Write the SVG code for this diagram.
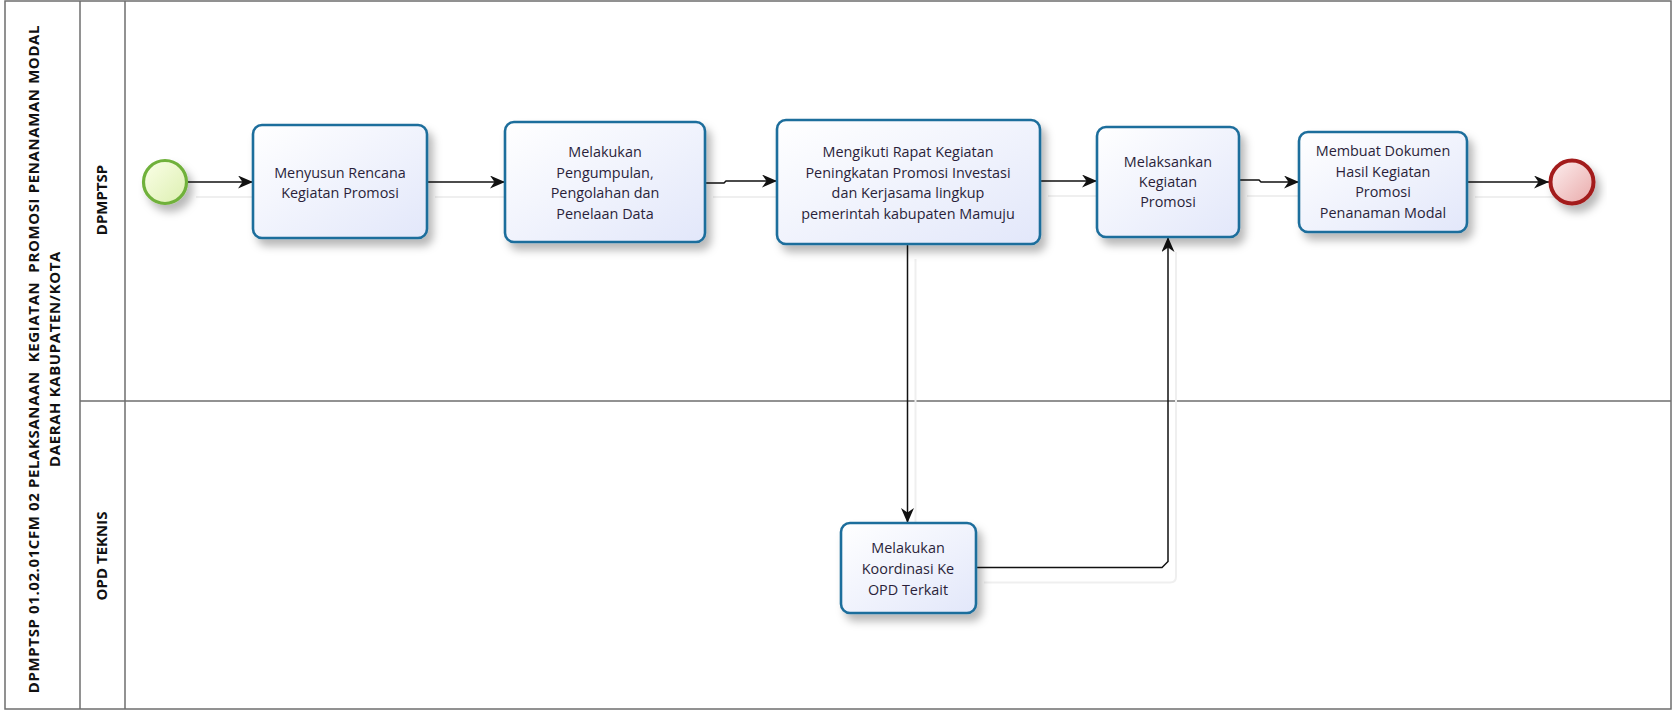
<svg xmlns="http://www.w3.org/2000/svg" width="1673" height="711" viewBox="0 0 1673 711">
<style>
.lane{fill:none;stroke:#6e6e6e;stroke-width:1.5}
.task{stroke:#1f6e9c;stroke-width:2.6;fill:url(#taskGrad);filter:url(#shadow)}
.lbl{font-family:"Open Sans","Noto Sans",sans-serif;font-size:14.4px;fill:#2a1f3a;text-anchor:middle;dominant-baseline:central}
.hdr{font-family:"Open Sans","Noto Sans",sans-serif;font-size:15px;font-weight:bold;fill:#111;text-anchor:middle;dominant-baseline:central;white-space:pre}
.title{letter-spacing:0.6px}
.flow{fill:none;stroke:#111;stroke-width:1.5;marker-end:url(#arrow)}
.fshadow{fill:none;stroke:#efefef;stroke-width:2}
</style>
<defs>
<linearGradient id="taskGrad" x1="0" y1="0" x2="1" y2="1">
<stop offset="0" stop-color="#ffffff"/>
<stop offset="1" stop-color="#e2e7fa"/>
</linearGradient>
<linearGradient id="startGrad" x1="0" y1="0" x2="1" y2="1">
<stop offset="0" stop-color="#fbffe8"/>
<stop offset="1" stop-color="#dcefb0"/>
</linearGradient>
<linearGradient id="endGrad" x1="0" y1="0" x2="1" y2="1">
<stop offset="0" stop-color="#fdf0f0"/>
<stop offset="1" stop-color="#e9a9a9"/>
</linearGradient>
<filter id="shadow" x="-20%" y="-20%" width="150%" height="160%">
<feDropShadow dx="5" dy="7" stdDeviation="4" flood-color="#000" flood-opacity="0.28"/>
</filter>
<marker id="arrow" viewBox="0 0 15 13" refX="15" refY="6.5" markerWidth="15" markerHeight="13" markerUnits="userSpaceOnUse" orient="auto">
<path d="M0,0 L15,6.5 L0,13 L4.5,6.5 z" fill="#111"/>
</marker>
</defs>

<g id="pool">
<rect x="0" y="0" width="1673" height="711" fill="#fff"/>
<rect class="lane" x="5" y="1" width="1666" height="708"/>
<line class="lane" x1="80" y1="1" x2="80" y2="709"/>
<line class="lane" x1="125" y1="1" x2="125" y2="709"/>
<line class="lane" x1="80" y1="401" x2="1671" y2="401"/>
<text class="hdr title" transform="translate(33,359) rotate(-90)">DPMPTSP 01.02.01CFM 02 PELAKSANAAN  KEGIATAN  PROMOSI PENANAMAN MODAL</text>
<text class="hdr title" transform="translate(54,359) rotate(-90)">DAERAH KABUPATEN/KOTA</text>
</g>
<g id="lane-dpmptsp"><text class="hdr" transform="translate(101,200) rotate(-90)">DPMPTSP</text></g>
<g id="lane-opd"><text class="hdr" transform="translate(101,556) rotate(-90)">OPD TEKNIS</text></g>

<g id="connectors">
<g transform="translate(8,15)">
<path class="fshadow" d="M188,182 H253"/>
<path class="fshadow" d="M427,182 H505"/>
<path class="fshadow" d="M705,182 H777"/>
<path class="fshadow" d="M1040,181 H1097"/>
<path class="fshadow" d="M1239,181 H1299"/>
<path class="fshadow" d="M1467,182 H1549"/>
<path class="fshadow" d="M907.5,244 V523"/>
<path class="fshadow" d="M976,567.5 H1162 Q1168,567.5 1168,561.5 V237"/>
</g>
<path id="f1" class="flow" d="M188,182 H253"/>
<path id="f2" class="flow" d="M427,182 H505"/>
<path id="f3" class="flow" d="M705,183 H724 L726,181 H777"/>
<path id="f4" class="flow" d="M1040,181 H1097"/>
<path id="f5" class="flow" d="M1239,180 H1259 L1261,182 H1299"/>
<path id="f6" class="flow" d="M1467,182 H1549"/>
<path id="f7" class="flow" d="M907.5,244 V523"/>
<path id="f8" class="flow" d="M976,567.5 H1162 L1168,561.5 V237"/>
</g>

<g id="start">
<circle cx="165" cy="182" r="21.5" fill="url(#startGrad)" stroke="#6fb13a" stroke-width="3.2" filter="url(#shadow)"/>
</g>
<g id="task1">
<rect class="task" x="253" y="125" width="174" height="113" rx="9"/>
<text class="lbl" x="340" y="172">Menyusun Rencana</text>
<text class="lbl" x="340" y="192">Kegiatan Promosi</text>
</g>
<g id="task2">
<rect class="task" x="505" y="122" width="200" height="120" rx="9"/>
<text class="lbl" x="605" y="151">Melakukan</text>
<text class="lbl" x="605" y="172">Pengumpulan,</text>
<text class="lbl" x="605" y="192.5">Pengolahan dan</text>
<text class="lbl" x="605" y="213">Penelaan Data</text>
</g>
<g id="task3">
<rect class="task" x="777" y="120" width="263" height="124" rx="9"/>
<text class="lbl" x="908" y="151.5">Mengikuti Rapat Kegiatan</text>
<text class="lbl" x="908" y="172">Peningkatan Promosi Investasi</text>
<text class="lbl" x="908" y="192.5">dan Kerjasama lingkup</text>
<text class="lbl" x="908" y="213">pemerintah kabupaten Mamuju</text>
</g>
<g id="task4">
<rect class="task" x="1097" y="127" width="142" height="110" rx="9"/>
<text class="lbl" x="1168" y="161.5">Melaksankan</text>
<text class="lbl" x="1168" y="181.5">Kegiatan</text>
<text class="lbl" x="1168" y="201.5">Promosi</text>
</g>
<g id="task5">
<rect class="task" x="1299" y="132" width="168" height="100" rx="9"/>
<text class="lbl" x="1383" y="150">Membuat Dokumen</text>
<text class="lbl" x="1383" y="171">Hasil Kegiatan</text>
<text class="lbl" x="1383" y="191.5">Promosi</text>
<text class="lbl" x="1383" y="212.5">Penanaman Modal</text>
</g>
<g id="end">
<circle cx="1572" cy="182" r="21.5" fill="url(#endGrad)" stroke="#a31c1c" stroke-width="4" filter="url(#shadow)"/>
</g>
<g id="task6">
<rect class="task" x="841" y="523" width="135" height="90" rx="9"/>
<text class="lbl" x="908" y="547">Melakukan</text>
<text class="lbl" x="908" y="568">Koordinasi Ke</text>
<text class="lbl" x="908" y="589">OPD Terkait</text>
</g>
</svg>
